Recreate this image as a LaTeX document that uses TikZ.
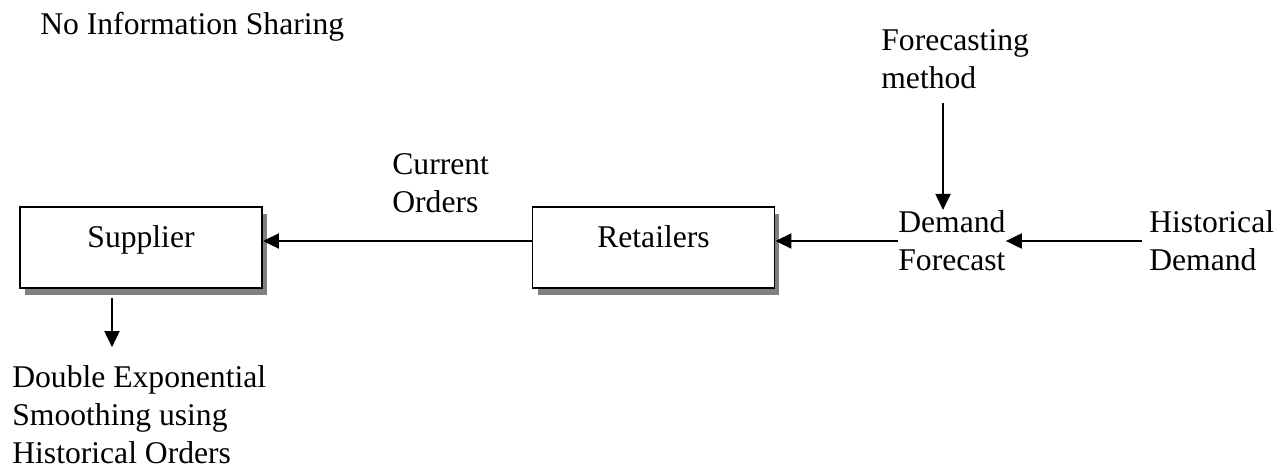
\documentclass[tikz,border=0pt]{standalone}
\usepackage{fontspec}
\setmainfont{Liberation Serif}
\usetikzlibrary{arrows.meta,shadows,calc}
\begin{document}
\begin{tikzpicture}[x=0.02cm, y=-0.02cm,
		font=\fontsize{18}{21.5}\selectfont,
		box/.style={draw=black, line width=1.1pt, fill=white, minimum width=4.84cm, minimum height=1.62cm, text height=10pt, text depth=10pt, drop shadow={shadow xshift=0.1cm, shadow yshift=-0.14cm, fill=black!50, opacity=1}},
		txt/.style={anchor=base west, inner sep=0pt, align=left},
		flow/.style={line width=1.1pt, -{Triangle[length=0.32cm, width=0.3cm]}}]
	\useasboundingbox (0,0) rectangle (1288,467);
	
	\node[txt] (ttl) at (40,34) {No Information Sharing};
	\node[box] (sup) at (141,247.5) {Supplier};
	\node[box] (ret) at (653.5,247.5) {Retailers};
	\node[txt] (cur) at (392,212) {Current\\Orders};
	\node[txt] (fm) at (881,88) {Forecasting\\method};
	\node[txt] (df) at (898,270) {Demand\\Forecast};
	\node[txt] (hd) at (1149,270) {Historical\\Demand};
	\node[txt] (des) at (12,463) {Double Exponential\\Smoothing using\\Historical Orders};
	
	\coordinate (lvl) at (0,241);
	\coordinate (fmx) at (943,0);
	\coordinate (sdx) at (112,0);
	
	\draw[flow] ($(hd.west |- lvl)+(-7,0)$) -- (df.east |- lvl);
	\draw[flow] (df.west |- lvl) -- (ret.east |- lvl);
	\draw[flow] (ret.west |- lvl) -- (sup.east |- lvl);
	\draw[flow] ($(fm.south -| fmx)+(0,14)$) -- (fmx |- df.north);
	\draw[flow] ($(sup.south -| sdx)+(0,9)$) -- ($(des.north -| sdx)+(0,-18)$);
	
\end{tikzpicture}
\end{document}
